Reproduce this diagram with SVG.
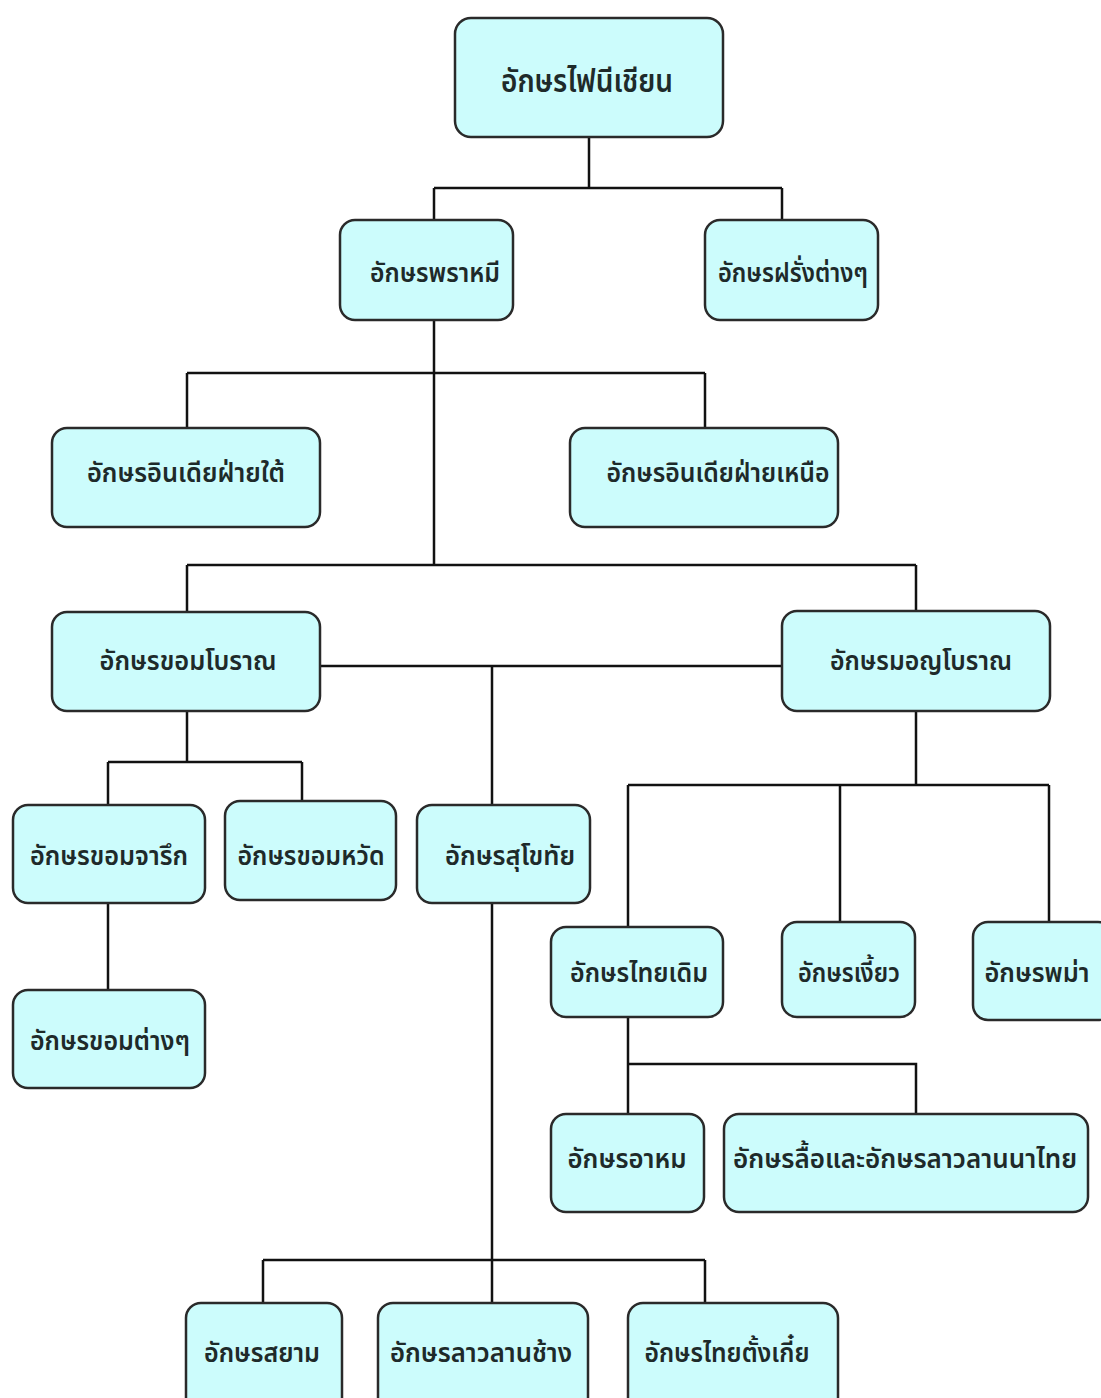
<svg xmlns="http://www.w3.org/2000/svg" width="1101" height="1398" viewBox="0 0 1101 1398">
<style>
  .box { fill: #ccfcfc; stroke: #2a2a2a; stroke-width: 2.5; }
  .lbl { font-family: "Noto Sans Thai", "Noto Sans", "DejaVu Sans", "Liberation Sans", sans-serif; font-size: 27px; font-weight: 600; fill: #1e2a2a; text-anchor: middle; }
  .big { font-size: 32px; }
  .conn { fill: none; stroke: #111; stroke-width: 2.5; }
</style>
<rect x="0" y="0" width="1101" height="1398" fill="#ffffff"/>
<g id="connectors">
  <path class="conn" d="M589 137 V188 M434 188 H782 M434 188 V220 M782 188 V220"/>
  <path class="conn" d="M434 320 V565 M187 373 H705 M187 373 V428 M705 373 V428"/>
  <path class="conn" d="M187 565 H916 M187 565 V612 M916 565 V612"/>
  <path class="conn" d="M320 666 H782 M492 666 V805"/>
  <path class="conn" d="M187 711 V762 M108 762 H302 M108 762 V805 M302 762 V801"/>
  <path class="conn" d="M108 903 V990"/>
  <path class="conn" d="M916 711 V785 M628 785 H1049 M628 785 V927 M840 785 V922 M1049 785 V922"/>
  <path class="conn" d="M628 1017 V1114 M628 1064 H916 V1114"/>
  <path class="conn" d="M492 903 V1260 M263 1260 H705 M263 1260 V1303 M492 1260 V1303 M705 1260 V1303"/>
</g>
<g id="n-phoenician">
  <rect class="box" x="455" y="18" width="268" height="119" rx="16"/>
  <text class="lbl big" x="587" y="92" textLength="172" lengthAdjust="spacingAndGlyphs">อักษรไฟนีเชียน</text>
</g>
<g id="n-brahmi">
  <rect class="box" x="340" y="220" width="173" height="100" rx="15"/>
  <text class="lbl" x="435" y="282" textLength="130" lengthAdjust="spacingAndGlyphs">อักษรพราหมี</text>
</g>
<g id="n-western">
  <rect class="box" x="705" y="220" width="173" height="100" rx="15"/>
  <text class="lbl" x="793" y="282" textLength="150" lengthAdjust="spacingAndGlyphs">อักษรฝรั่งต่างๆ</text>
</g>
<g id="n-south-india">
  <rect class="box" x="52" y="428" width="268" height="99" rx="15"/>
  <text class="lbl" x="186" y="482" textLength="198" lengthAdjust="spacingAndGlyphs">อักษรอินเดียฝ่ายใต้</text>
</g>
<g id="n-north-india">
  <rect class="box" x="570" y="428" width="268" height="99" rx="15"/>
  <text class="lbl" x="718" y="482" textLength="223" lengthAdjust="spacingAndGlyphs">อักษรอินเดียฝ่ายเหนือ</text>
</g>
<g id="n-old-khmer">
  <rect class="box" x="52" y="612" width="268" height="99" rx="15"/>
  <text class="lbl" x="188" y="670" textLength="177" lengthAdjust="spacingAndGlyphs">อักษรขอมโบราณ</text>
</g>
<g id="n-old-mon">
  <rect class="box" x="782" y="611" width="268" height="100" rx="15"/>
  <text class="lbl" x="921" y="670" textLength="182" lengthAdjust="spacingAndGlyphs">อักษรมอญโบราณ</text>
</g>
<g id="n-khmer-inscription">
  <rect class="box" x="13" y="805" width="192" height="98" rx="15"/>
  <text class="lbl" x="109" y="865" textLength="158" lengthAdjust="spacingAndGlyphs">อักษรขอมจารึก</text>
</g>
<g id="n-khmer-cursive">
  <rect class="box" x="225" y="801" width="171" height="99" rx="15"/>
  <text class="lbl" x="311" y="865" textLength="147" lengthAdjust="spacingAndGlyphs">อักษรขอมหวัด</text>
</g>
<g id="n-sukhothai">
  <rect class="box" x="417" y="805" width="173" height="98" rx="15"/>
  <text class="lbl" x="510" y="865" textLength="130" lengthAdjust="spacingAndGlyphs">อักษรสุโขทัย</text>
</g>
<g id="n-khmer-various">
  <rect class="box" x="13" y="990" width="192" height="98" rx="15"/>
  <text class="lbl" x="110" y="1050" textLength="160" lengthAdjust="spacingAndGlyphs">อักษรขอมต่างๆ</text>
</g>
<g id="n-old-thai">
  <rect class="box" x="551" y="927" width="172" height="90" rx="15"/>
  <text class="lbl" x="639" y="982" textLength="138" lengthAdjust="spacingAndGlyphs">อักษรไทยเดิม</text>
</g>
<g id="n-ngiao">
  <rect class="box" x="782" y="922" width="133" height="95" rx="15"/>
  <text class="lbl" x="849" y="982" textLength="102" lengthAdjust="spacingAndGlyphs">อักษรเงี้ยว</text>
</g>
<g id="n-burmese">
  <rect class="box" x="973" y="922" width="140" height="98" rx="15"/>
  <text class="lbl" x="1037" y="982" textLength="105" lengthAdjust="spacingAndGlyphs">อักษรพม่า</text>
</g>
<g id="n-ahom">
  <rect class="box" x="551" y="1114" width="153" height="98" rx="15"/>
  <text class="lbl" x="627" y="1168" textLength="119" lengthAdjust="spacingAndGlyphs">อักษรอาหม</text>
</g>
<g id="n-lue-lanna">
  <rect class="box" x="724" y="1114" width="364" height="98" rx="15"/>
  <text class="lbl" x="905" y="1168" textLength="344" lengthAdjust="spacingAndGlyphs">อักษรลื้อและอักษรลาวลานนาไทย</text>
</g>
<g id="n-siam">
  <rect class="box" x="186" y="1303" width="156" height="110" rx="15"/>
  <text class="lbl" x="262" y="1362" textLength="116" lengthAdjust="spacingAndGlyphs">อักษรสยาม</text>
</g>
<g id="n-lan-xang">
  <rect class="box" x="378" y="1303" width="210" height="110" rx="15"/>
  <text class="lbl" x="481" y="1362" textLength="182" lengthAdjust="spacingAndGlyphs">อักษรลาวลานช้าง</text>
</g>
<g id="n-tonkin">
  <rect class="box" x="628" y="1303" width="210" height="110" rx="15"/>
  <text class="lbl" x="727" y="1362" textLength="165" lengthAdjust="spacingAndGlyphs">อักษรไทยตั้งเกี๋ย</text>
</g>
</svg>
